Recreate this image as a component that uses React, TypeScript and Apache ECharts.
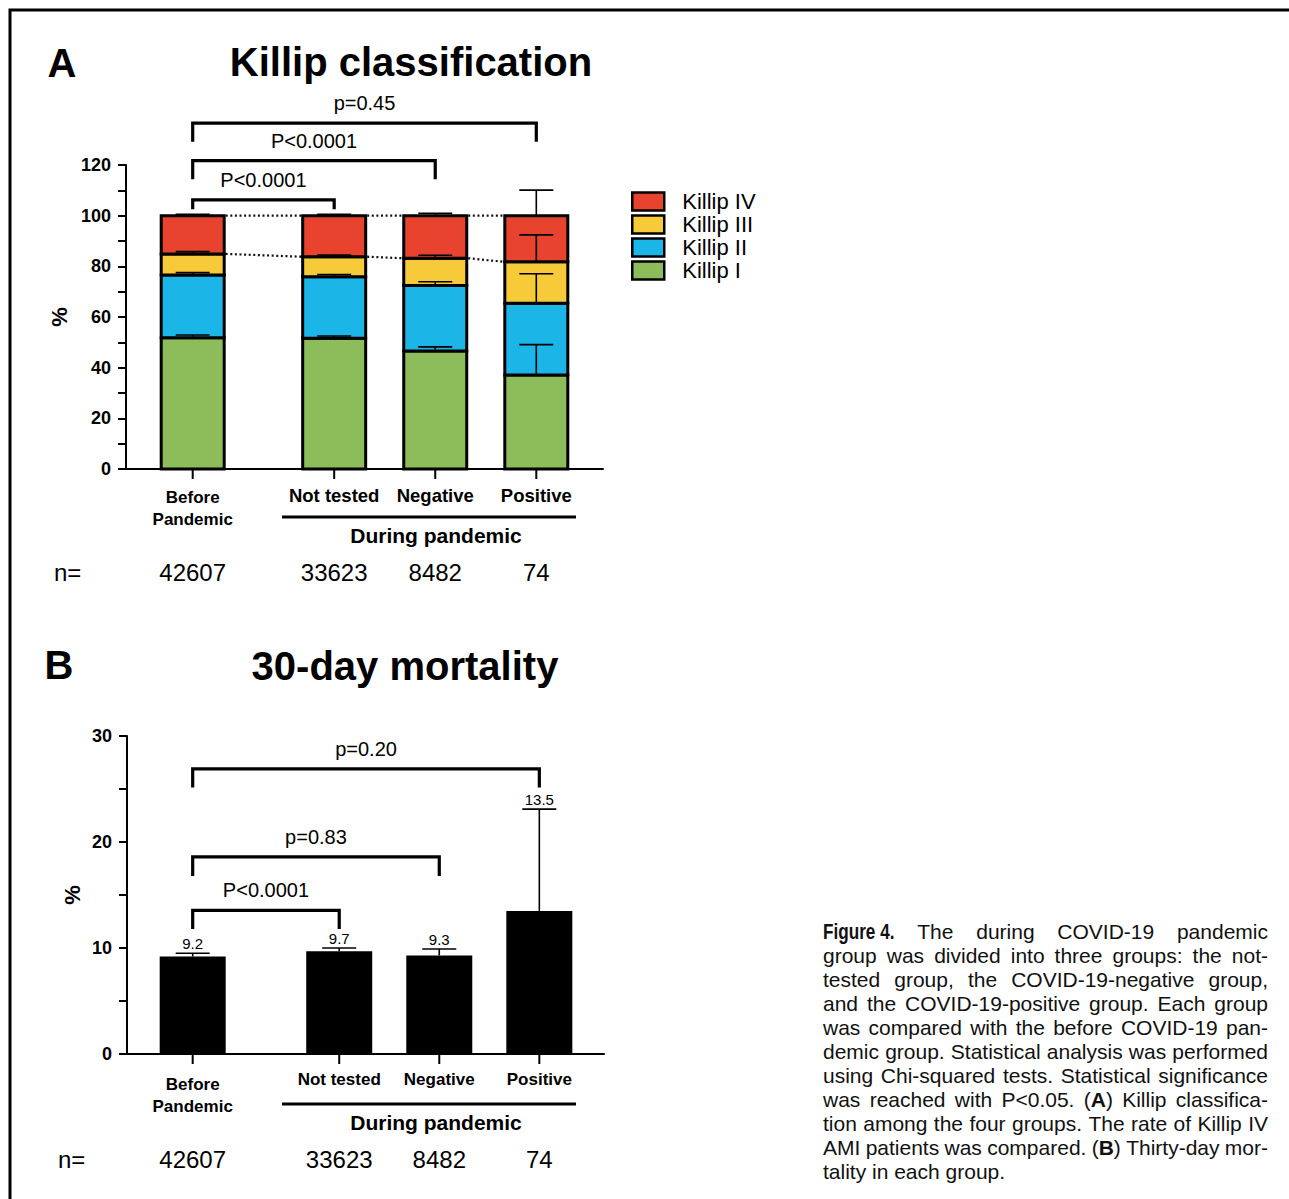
import React, { useEffect, useRef } from "react";
import * as echarts from "echarts";

const FONT = "'Liberation Sans', Arial, Helvetica, sans-serif";
const NARROW = "'Liberation Sans Narrow', 'DejaVu Sans Condensed', 'Liberation Sans', Arial, sans-serif";

// ---------------- data ----------------
const groups = ["Before\nPandemic", "Not tested", "Negative", "Positive"];
const nCounts = ["42607", "33623", "8482", "74"];

const killipNames = ["Killip I", "Killip II", "Killip III", "Killip IV"];
const killipI = [51.8, 51.6, 46.6, 37.1];
const killipII = [24.8, 24.3, 25.8, 28.3];
const killipIII = [8.3, 7.9, 10.8, 16.4];
const killipIV = [15.1, 16.2, 16.8, 18.2];
const killipIErr = [1.1, 0.9, 1.6, 12.0];
const killipIIErr = [0.9, 0.9, 1.5, 11.7];
const killipIIIErr = [0.9, 0.7, 1.2, 10.6];
const killipIVErr = [0.5, 0.5, 0.9, 10.1];

const mortality = [9.2, 9.7, 9.3, 13.5];
const mortalityErr = [0.3, 0.3, 0.6, 9.6];

const compareA = [[0, 1], [0, 2], [0, 3]];
const pLabelsA = ["P<0.0001", "P<0.0001", "p=0.45"];
const compareB = [[0, 1], [0, 2], [0, 3]];
const pLabelsB = ["P<0.0001", "p=0.83", "p=0.20"];

const yAxisA = { min: 0, max: 120, interval: 20 };
const yAxisB = { min: 0, max: 30, interval: 10 };

const caption = [
  "^Figure~4. The during COVID-19 pandemic",
  "group was divided into three groups: the not-",
  "tested group, the COVID-19-negative group,",
  "and the COVID-19-positive group. Each group",
  "was compared with the before COVID-19 pan-",
  "demic group. Statistical analysis was performed",
  "using Chi-squared tests. Statistical significance",
  "was reached with P<0.05. (*A*) Killip classifica-",
  "tion among the four groups. The rate of Killip IV",
  "AMI patients was compared. (*B*) Thirty-day mor-",
  "tality in each group.",
];

// ---------------- layout (not data) ----------------
const posA = [0.66, 2.06, 3.06, 4.06];
const posB = [0.65, 2.1, 3.09, 4.08];
const bracketA = [[106.2, 102.5], [121.7, 114.4], [136.5, 129.2]];
const bracketB = [[13.55, 11.8], [18.6, 16.8], [26.9, 25.15]];
const colors = ["#8CBD5A", "#1CB5E8", "#F7CA3A", "#E8432F"];

function buildCaption(): any[] {
  const X0 = 823, X1 = 1268, Y0 = 931, LH = 24, FS = 21;
  const ctx = document.createElement("canvas").getContext("2d") as CanvasRenderingContext2D;
  const measure = (t: string, font: string) => { ctx.font = font; return ctx.measureText(t).width; };
  const parsed = caption.map((line) => line.split(" ").map((w) => {
    if (w.startsWith("^")) return [{ t: w.slice(1).replace(/~/g, " "), kind: "narrow" }];
    return w.split("*").map((s, i) => ({ t: s, kind: i % 2 ? "bold" : "normal" })).filter((s) => s.t.length);
  }));
  const fontOf = (kind: string) => `${kind === "normal" ? "normal" : "bold"} ${kind === "narrow" ? FS + 1 : FS}px ${FONT}`;
  const segScale = (kind: string) => (kind === "narrow" ? 0.78 : 1);
  const segW = (s: any) => measure(s.t, fontOf(s.kind)) * segScale(s.kind);
  const sp = measure(" ", fontOf("normal"));
  // global horizontal condensation so that every justified line fits with near-normal spaces
  let scale = 1;
  parsed.forEach((words, li) => {
    if (li === parsed.length - 1) return;
    const tot = words.reduce((a, w) => a + w.reduce((b, s) => b + segW(s), 0), 0);
    const need = tot + (words.length - 1) * sp * 0.85;
    scale = Math.min(scale, (X1 - X0) / need);
  });
  const els: any[] = [];
  parsed.forEach((words, li) => {
    const widths = words.map((w) => w.reduce((b, s) => b + segW(s), 0) * scale);
    const tot = widths.reduce((a, b) => a + b, 0);
    const last = li === parsed.length - 1;
    const gap = last ? sp * scale : (X1 - X0 - tot) / (words.length - 1);
    let x = X0;
    const y = Y0 + li * LH;
    words.forEach((w, wi) => {
      let sx = x;
      w.forEach((s) => {
        const narrow = s.kind === "narrow";
        const sc = scale * segScale(s.kind);
        els.push({
          type: "text", x: sx, y, scaleX: sc, silent: true,
          style: {
            text: s.t, fill: "#111",
            fontSize: narrow ? FS + 1 : FS,
            fontWeight: s.kind === "normal" ? "normal" : "bold",
            fontFamily: FONT,
            textAlign: "left", align: "left", textVerticalAlign: "middle", verticalAlign: "middle",
          },
        });
        sx += measure(s.t, fontOf(s.kind)) * sc;
      });
      x += widths[wi] + gap;
    });
  });
  return els;
}

function txt(text: string, x: number, y: number, fontSize: number, bold: boolean, align = "center", extra: any = {}) {
  return {
    type: "text", x, y, silent: true,
    style: {
      text, fill: "#000", fontSize, fontWeight: bold ? "bold" : "normal", fontFamily: FONT,
      textAlign: align, align, textVerticalAlign: "middle", verticalAlign: "middle", ...extra,
    },
  };
}

export default function App() {
  const ref = useRef<HTMLDivElement>(null);
  useEffect(() => {
    if (!ref.current) return;
    const chart = echarts.init(ref.current, null, { renderer: "svg" });

    const killipVals = [killipI, killipII, killipIII, killipIV];
    const killipErrs = [killipIErr, killipIIErr, killipIIIErr, killipIVErr];
    const bases: number[][] = [];
    const tops: number[][] = [];
    let acc = groups.map(() => 0);
    killipVals.forEach((vals, k) => {
      bases[k] = acc.slice();
      acc = acc.map((a, i) => a + vals[i]);
      tops[k] = acc.slice();
    });

    const BAR = 66;
    const stroke = "#000";

    const killipSeries = killipVals.map((vals, k) => ({
      type: "custom", name: killipNames[k], xAxisIndex: 0, yAxisIndex: 0, z: 2,
      itemStyle: { color: colors[k], borderColor: "#000", borderWidth: 2 },
      data: posA.map((x, i) => [x, bases[k][i], tops[k][i]]),
      renderItem: (params: any, api: any) => {
        const x = api.value(0);
        const p1 = api.coord([x, api.value(2)]);
        const p2 = api.coord([x, api.value(1)]);
        return {
          type: "rect",
          shape: { x: p1[0] - (BAR - 3) / 2, y: p1[1], width: BAR - 3, height: p2[1] - p1[1] },
          style: { fill: colors[k], stroke, lineWidth: 3 },
        };
      },
    }));

    const errorBar = (p0: number[], p1: number[], cap = 34) => [
      { type: "line", shape: { x1: p0[0], y1: p0[1], x2: p1[0], y2: p1[1] }, style: { stroke, lineWidth: 1.6 } },
      { type: "line", shape: { x1: p1[0] - cap / 2, y1: p1[1], x2: p1[0] + cap / 2, y2: p1[1] }, style: { stroke, lineWidth: 1.6 } },
    ];

    const killipErrSeries = killipVals.map((vals, k) => ({
      type: "custom", name: killipNames[k] + " err", xAxisIndex: 0, yAxisIndex: 0, z: 4, silent: true,
      data: posA.map((x, i) => [x, tops[k][i], killipErrs[k][i]]),
      renderItem: (params: any, api: any) => {
        const x = api.value(0), t = api.value(1), e = api.value(2);
        return { type: "group", children: errorBar(api.coord([x, t]), api.coord([x, t + e])) };
      },
    }));

    const connectors: number[][] = [];
    [2, 3].forEach((k) => {
      for (let i = 0; i < posA.length - 1; i++) connectors.push([posA[i], tops[k][i], posA[i + 1], tops[k][i + 1]]);
    });
    const connectorSeries = {
      type: "custom", xAxisIndex: 0, yAxisIndex: 0, z: 1, silent: true,
      data: connectors,
      renderItem: (params: any, api: any) => {
        const a = api.coord([api.value(0), api.value(1)]);
        const b = api.coord([api.value(2), api.value(3)]);
        return {
          type: "line",
          shape: { x1: a[0] + BAR / 2, y1: a[1], x2: b[0] - BAR / 2, y2: b[1] },
          style: { stroke: "#111", lineWidth: 2.2, lineDash: [2, 2.6] },
        };
      },
    };

    const bracketSeries = (xi: number, pos: number[], pairs: number[][], levels: number[][], labels: string[]) => ({
      type: "custom", xAxisIndex: xi, yAxisIndex: xi, z: 5, silent: true,
      data: pairs.map((p, i) => [pos[p[0]], pos[p[1]], levels[i][0], levels[i][1]]),
      renderItem: (params: any, api: any) => {
        const a = api.coord([api.value(0), api.value(2)]);
        const b = api.coord([api.value(1), api.value(2)]);
        const legY = api.coord([api.value(0), api.value(3)])[1];
        return {
          type: "group",
          children: [
            {
              type: "polyline",
              shape: { points: [[a[0], legY], [a[0], a[1]], [b[0], b[1]], [b[0], legY]] },
              style: { stroke, lineWidth: 3.2, fill: "none" },
            },
            txt(labels[params.dataIndex], (a[0] + b[0]) / 2, a[1] - 20, 20, false),
          ],
        };
      },
    });

    const axisLabelSeries = (xi: number, pos: number[], nOffset: number, twoTop: number, oneTop: number, oneSize: number) => ({
      type: "custom", xAxisIndex: xi, yAxisIndex: xi, z: 5, silent: true,
      data: pos.map((x) => [x, 0]),
      renderItem: (params: any, api: any) => {
        const i = params.dataIndex;
        const p = api.coord([api.value(0), 0]);
        const two = groups[i].indexOf("\n") >= 0;
        return {
          type: "group",
          children: [
            { type: "line", shape: { x1: p[0], y1: p[1], x2: p[0], y2: p[1] + 10 }, style: { stroke, lineWidth: 2 } },
            {
              type: "text", x: p[0], y: p[1] + (two ? twoTop : oneTop),
              style: {
                text: groups[i], fill: "#000", fontSize: two ? 17 : oneSize, fontWeight: "bold", fontFamily: FONT,
                lineHeight: two ? 22 : 20, textAlign: "center", align: "center", textVerticalAlign: "top", verticalAlign: "top",
              },
            },
            txt(nCounts[i], p[0], p[1] + nOffset, 24, false),
          ],
        };
      },
    });

    const mortalityBars = {
      type: "custom", xAxisIndex: 1, yAxisIndex: 1, z: 2, name: "30-day mortality",
      data: posB.map((x, i) => [x, mortality[i]]),
      renderItem: (params: any, api: any) => {
        const x = api.value(0);
        const p1 = api.coord([x, api.value(1)]);
        const p2 = api.coord([x, 0]);
        return { type: "rect", shape: { x: p1[0] - BAR / 2, y: p1[1], width: BAR, height: p2[1] - p1[1] }, style: { fill: "#000" } };
      },
    };
    const mortalityErrSeries = {
      type: "custom", xAxisIndex: 1, yAxisIndex: 1, z: 4, silent: true,
      data: posB.map((x, i) => [x, mortality[i], mortalityErr[i]]),
      renderItem: (params: any, api: any) => {
        const x = api.value(0), v = api.value(1), e = api.value(2);
        const c = api.coord([x, v + e]);
        return {
          type: "group",
          children: [
            ...errorBar(api.coord([x, v]), c),
            txt(String(mortality[params.dataIndex]), c[0], c[1] - 2, 15, false, "center", { textVerticalAlign: "bottom", verticalAlign: "bottom" }),
          ],
        };
      },
    };

    const axisLine = { show: true, onZero: false, lineStyle: { color: "#000", width: 2 } };
    const xAxisCommon = {
      type: "value", min: 0, max: 4.72, axisLine, axisTick: { show: false }, axisLabel: { show: false }, splitLine: { show: false },
    };
    const yAxisCommon = (cfg: any, gap: number) => ({
      type: "value", ...cfg, axisLine,
      axisTick: { show: true, length: 8, lineStyle: { color: "#000", width: 2 } },
      minorTick: { show: true, splitNumber: 2, length: 8, lineStyle: { color: "#000", width: 2 } },
      axisLabel: { fontSize: 18, fontWeight: "bold", color: "#000", margin: 15, fontFamily: FONT },
      splitLine: { show: false },
      name: "%", nameLocation: "middle", nameRotate: 90, nameGap: gap,
      nameTextStyle: { fontSize: 22, fontWeight: "bold", color: "#000", fontFamily: FONT },
    });

    const graphics: any[] = [
      { type: "polyline", silent: true, shape: { points: [[10, 1199], [10, 10], [1289, 10]] }, style: { stroke: "#000", lineWidth: 3, fill: "none" } },
      txt("A", 62, 63, 40, true),
      txt("Killip classification", 411, 62, 40, true),
      txt("B", 59, 665, 40, true),
      txt("30-day mortality", 405, 666, 40, true),
      { type: "line", silent: true, shape: { x1: 282, y1: 517, x2: 576, y2: 517 }, style: { stroke: "#000", lineWidth: 3 } },
      txt("During pandemic", 436, 535, 21, true),
      { type: "line", silent: true, shape: { x1: 282, y1: 1104, x2: 576, y2: 1104 }, style: { stroke: "#000", lineWidth: 3 } },
      txt("During pandemic", 436, 1122, 21, true),
      txt("n=", 54, 572, 24, false, "left"),
      txt("n=", 58, 1159, 24, false, "left"),
      ...buildCaption(),
    ];

    chart.setOption({
      animation: false,
      backgroundColor: "#fff",
      textStyle: { fontFamily: FONT },
      grid: [
        { left: 126, top: 165, width: 477, height: 304 },
        { left: 127, top: 736, width: 477, height: 318 },
      ],
      xAxis: [
        { ...xAxisCommon, gridIndex: 0 },
        { ...xAxisCommon, gridIndex: 1 },
      ],
      yAxis: [
        { ...yAxisCommon(yAxisA, 56), gridIndex: 0 },
        { ...yAxisCommon(yAxisB, 44), gridIndex: 1 },
      ],
      legend: {
        orient: "vertical", left: 631, top: 190, padding: 0, itemWidth: 32, itemHeight: 18, itemGap: 0, icon: "rect",
        selectedMode: false,
        data: ["Killip IV", "Killip III", "Killip II", "Killip I"],
        itemStyle: { borderColor: "#000", borderWidth: 2.5 },
        textStyle: { fontSize: 22, lineHeight: 23, color: "#000", fontFamily: FONT, padding: [0, 0, 0, 13] },
      },
      graphic: graphics,
      series: [
        connectorSeries,
        ...killipSeries,
        ...killipErrSeries,
        bracketSeries(0, posA, compareA, bracketA, pLabelsA),
        axisLabelSeries(0, posA, 103, 17, 16, 18.5),
        mortalityBars,
        mortalityErrSeries,
        bracketSeries(1, posB, compareB, bracketB, pLabelsB),
        axisLabelSeries(1, posB, 105, 19, 15, 17),
      ],
    });
    return () => chart.dispose();
  }, []);
  return <div ref={ref} style={{ position: "absolute", left: 0, top: 0, width: 1289, height: 1199, background: "#fff" }} />;
}
